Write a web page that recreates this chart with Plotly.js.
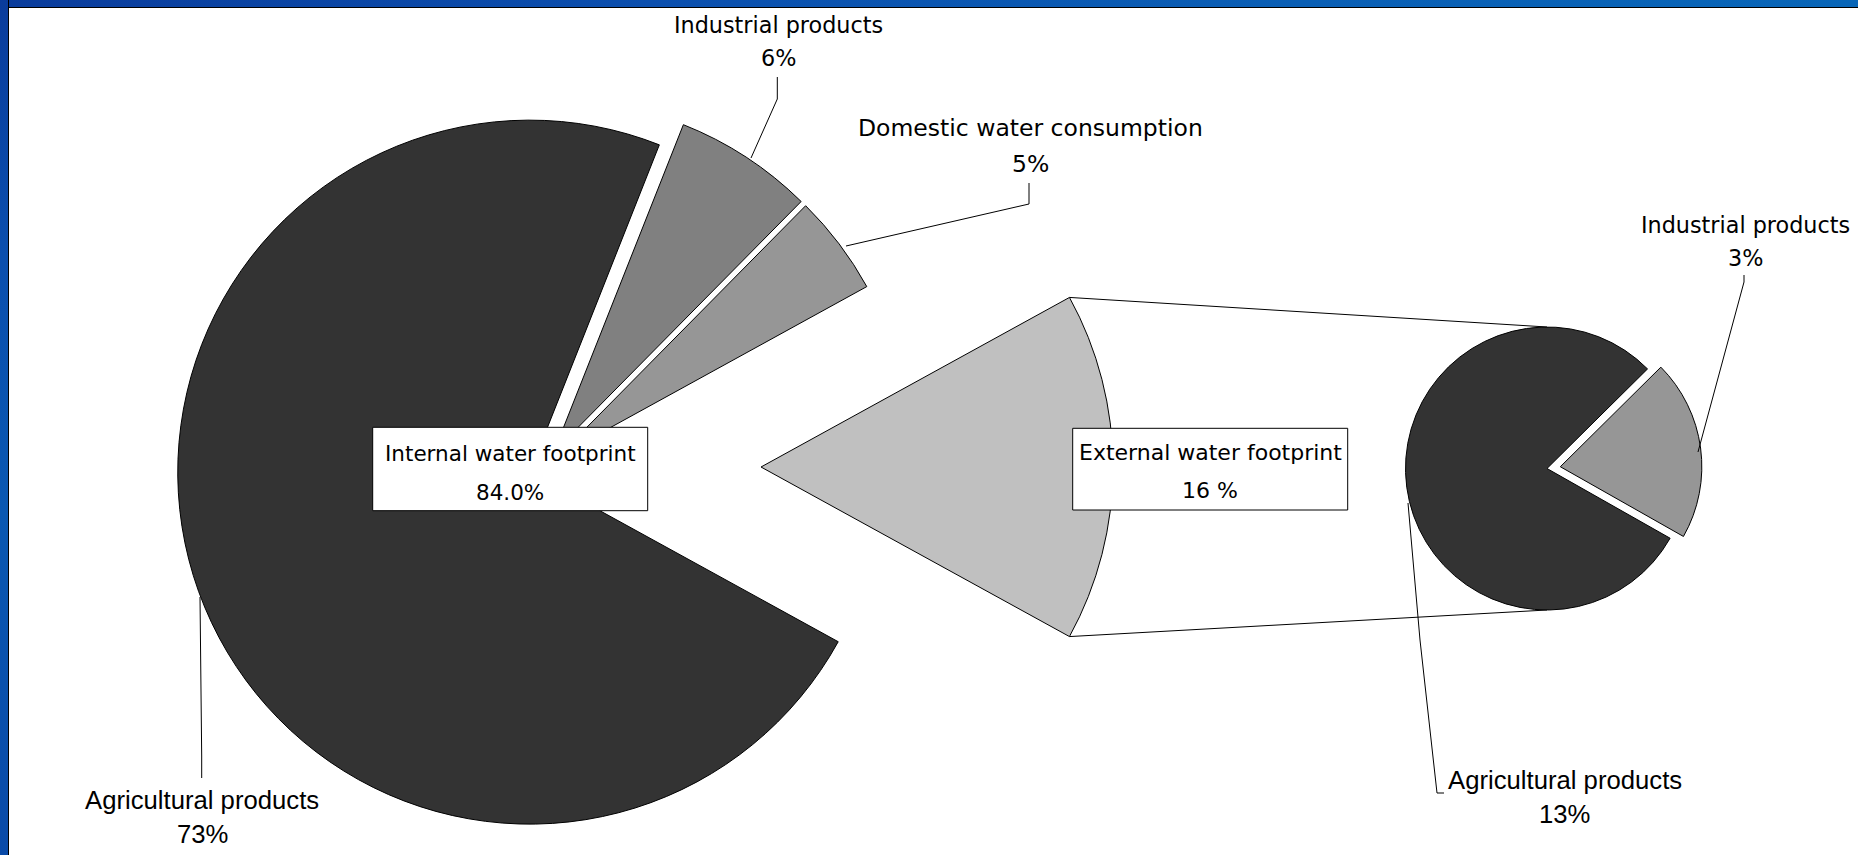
<!DOCTYPE html>
<html><head><meta charset="utf-8">
<script src="https://cdn.plot.ly/plotly-3.0.1.min.js"></script>
<style>
html,body{margin:0;padding:0;overflow:hidden;background:#fff;}
body{width:1858px;height:855px;}
#topband{position:absolute;left:0;top:0;width:1858px;height:7px;background:linear-gradient(90deg,#0a3c9c 0%,#0b4fae 35%,#0a5fb5 70%,#0866b8 100%);border-bottom:1px solid #000;}
#leftband{position:absolute;left:0;top:0;width:8px;height:855px;background:linear-gradient(180deg,#0a3c9c 0%,#0b4fae 30%,#0a58b2 60%,#0a4aa8 100%);border-right:1px solid #000;}
#chart{position:absolute;left:9px;top:8px;}
</style></head><body><div id="chart"></div><div id="topband"></div><div id="leftband"></div>
<script>
// ---------------- data ----------------
const internalLabels = ['Industrial products', 'Domestic water consumption', 'External water footprint', 'Agricultural products'];
const internalValues = [6.4, 4.6, 16.0, 73.0];
const externalLabels = ['Industrial products', 'Agricultural products'];
const externalValues = [3.3, 12.7];
const boxTitles = ['Internal water footprint', 'External water footprint'];

// ---------------- layout geometry (page pixels) ----------------
const OX = 9, OY = 8, W = 1849, H = 847;
const px = x => (x - OX) / W;
const py = y => 1 - (y - OY) / H;

const R1 = 352, C1 = [544, 467];       // big pie
const pullBig = [0.051, 0.051, 0, 0.043];
const extShift = 217;                  // how far the external wedge is pulled out
const R2 = 141.5, C2 = [1547, 468.5];  // small pie
const pullSmall = [0.095, 0];
const smallIndCentre = 82.4;           // angle of the small industrial slice centre

function dom(cx, cy, half) {
  return {x: [(cx - OX - half) / W, (cx - OX + half) / W],
          y: [1 - (cy - OY + half) / H, 1 - (cy - OY - half) / H]};
}

const tot1 = internalValues.reduce((a, b) => a + b, 0);
const iExt = 2;
const beforeExt = internalValues[0] + internalValues[1];
const rot1 = 90 - 360 * (beforeExt + internalValues[iExt] / 2) / tot1;
const tot2 = externalValues.reduce((a, b) => a + b, 0);
const rot2 = smallIndCentre - 360 * (externalValues[0] / 2) / tot2;

const T = 'rgba(0,0,0,0)';
const maxPull1 = Math.max(...pullBig);
const maxPull2 = Math.max(...pullSmall);

const traces = [
  { type: 'pie', labels: internalLabels, values: internalValues, sort: false,
    direction: 'clockwise', rotation: rot1, pull: pullBig,
    marker: {colors: ['#808080', '#969696', T, '#333333'],
             line: {color: ['#000', '#000', T, '#000'], width: [1, 1, 0, 1]}},
    textinfo: 'none', hoverinfo: 'none', showlegend: false,
    domain: dom(C1[0], C1[1], R1 * (1 + maxPull1)) },
  { type: 'pie', labels: internalLabels, values: internalValues, sort: false,
    direction: 'clockwise', rotation: rot1,
    marker: {colors: [T, T, '#c0c0c0', T],
             line: {color: [T, T, '#000', T], width: [0, 0, 1, 0]}},
    textinfo: 'none', hoverinfo: 'none', showlegend: false,
    domain: dom(C1[0] + extShift, C1[1], R1) },
  { type: 'pie', labels: externalLabels, values: externalValues, sort: false,
    direction: 'clockwise', rotation: rot2, pull: pullSmall,
    marker: {colors: ['#969696', '#333333'], line: {color: '#000', width: 1}},
    textinfo: 'none', hoverinfo: 'none', showlegend: false,
    domain: dom(C2[0], C2[1], R2 * (1 + maxPull2)) }
];

// connector lines from the external wedge to the small pie
const aTop = rot1 + 360 * beforeExt / tot1;
const aBot = aTop + 360 * internalValues[iExt] / tot1;
const rad = d => d * Math.PI / 180;
const eC = [C1[0] + extShift, C1[1]];
const pTop = [eC[0] + R1 * Math.sin(rad(aTop)), eC[1] - R1 * Math.cos(rad(aTop))];
const pBot = [eC[0] + R1 * Math.sin(rad(aBot)), eC[1] - R1 * Math.cos(rad(aBot))];
const lineSty = {color: '#000', width: 1};
const shapes = [
  {type: 'line', xref: 'paper', yref: 'paper', x0: px(pTop[0]), y0: py(pTop[1]), x1: px(C2[0]), y1: py(C2[1] - R2), line: lineSty, layer: 'below'},
  {type: 'line', xref: 'paper', yref: 'paper', x0: px(pBot[0]), y0: py(pBot[1]), x1: px(C2[0]), y1: py(C2[1] + R2), line: lineSty, layer: 'below'}
];
function leader(pts) {
  const d = pts.map((p, i) => (i ? 'L' : 'M') + px(p[0]) + ',' + py(p[1])).join(' ');
  shapes.push({type: 'path', xref: 'paper', yref: 'paper', path: d, line: {color: '#000', width: 1}});
}
leader([[777.3, 77], [777.3, 99], [751, 158]]);
leader([[1029, 183], [1029, 204], [846, 246]]);
leader([[200, 597], [201.7, 756], [201.7, 778]]);
leader([[1744, 275], [1744, 282], [1698, 452]]);
leader([[1408, 503], [1420, 640], [1437, 793], [1444, 793]]);

function box(x0, y0, x1, y1) {
  shapes.push({type: 'rect', xref: 'paper', yref: 'paper', x0: px(x0), y0: py(y1), x1: px(x1), y1: py(y0),
               fillcolor: '#fff', line: {color: '#000', width: 1}, layer: 'above'});
}
box(372.7, 427.3, 647.7, 510.7);
box(1072.7, 428.3, 1347.7, 510);

const annotations = [];
const WIDE = 'DejaVu Sans', PLAIN = 'Liberation Sans, Arial, sans-serif';
function txt(str, xc, baseline, fam, size) {
  annotations.push({xref: 'paper', yref: 'paper', x: px(xc), y: py(baseline - 0.346 * size),
    text: str, showarrow: false, xanchor: 'center', yanchor: 'middle',
    font: {family: fam, size: size, color: '#000'}});
}
const pct = v => Math.round(v) + '%';
txt(internalLabels[0], 778, 32.3, WIDE, 22.3);
txt(pct(internalValues[0]), 778, 66, WIDE, 22.3);
txt(internalLabels[1], 1030, 136, WIDE, 23.5);
txt(pct(internalValues[1]), 1030, 172.5, WIDE, 23.5);
txt(internalLabels[3], 202.2, 809, PLAIN, 25.7);
txt(pct(internalValues[3]), 202.2, 843.3, PLAIN, 25.7);
txt(externalLabels[0], 1745, 233, WIDE, 22.3);
txt(pct(externalValues[0]), 1745, 266, WIDE, 22.3);
txt(externalLabels[1], 1564.6, 789.3, PLAIN, 25.7);
txt(pct(externalValues[1]), 1564.6, 823.3, PLAIN, 25.7);
const internalSum = internalValues.filter((v, i) => i !== iExt).reduce((a, b) => a + b, 0);
txt(boxTitles[0], 510.2, 460.7, WIDE, 21.5);
txt(internalSum.toFixed(1) + '%', 510.2, 500, WIDE, 21.5);
txt(boxTitles[1], 1210.2, 460, WIDE, 22);
txt(Math.round(internalValues[iExt]) + ' %', 1210.2, 498.5, WIDE, 22);

Plotly.newPlot('chart', traces, {
  width: W, height: H, margin: {l: 0, r: 0, t: 0, b: 0}, autosize: false,
  paper_bgcolor: '#fff', plot_bgcolor: '#fff', showlegend: false,
  shapes: shapes, annotations: annotations
}, {staticPlot: true, displayModeBar: false});
</script></body></html>
